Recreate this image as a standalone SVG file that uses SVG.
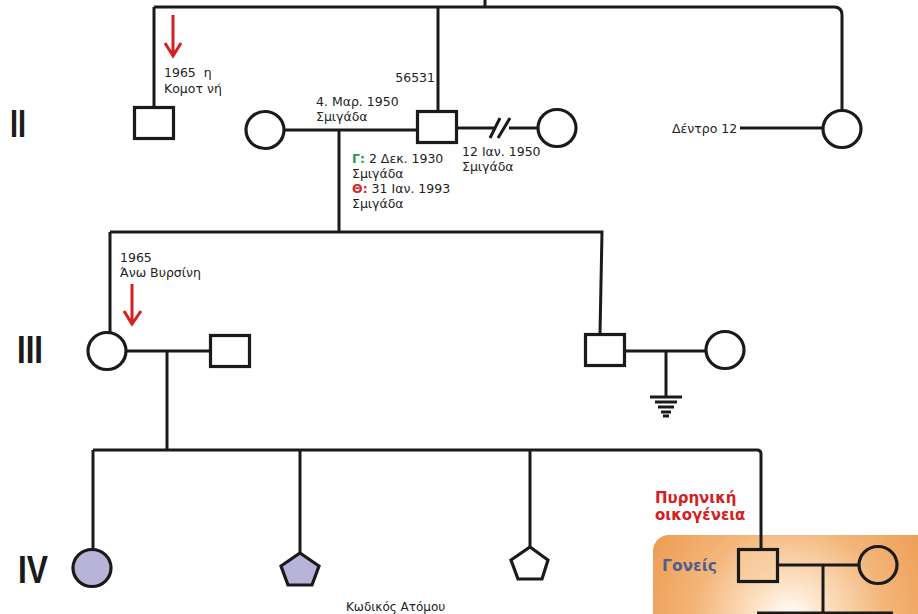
<svg xmlns="http://www.w3.org/2000/svg" width="918" height="614" viewBox="0 0 918 614">
<defs>
<radialGradient id="og" gradientUnits="userSpaceOnUse" cx="790" cy="618" r="170">
<stop offset="0" stop-color="#ffffff"/>
<stop offset="0.18" stop-color="#fde6cc"/>
<stop offset="0.55" stop-color="#f3b67a"/>
<stop offset="1" stop-color="#ec984a"/>
</radialGradient>
<style>
.ln{fill:none;stroke:#1a1a1a;stroke-width:3}
.sh{fill:#ffffff;stroke:#1a1a1a;stroke-width:3.2}
.aff{fill:#b8b3d9;stroke:#1a1a1a;stroke-width:3.2}
.tx{font-family:"DejaVu Sans",Verdana,sans-serif;font-size:12.5px;fill:#222222}
.gen{font-family:"Liberation Sans",Arial,sans-serif;font-weight:bold;font-size:38px;fill:#1a1a1a}
.arr{fill:none;stroke:#d42020;stroke-width:3}
.grn{fill:#2a9a4a;font-weight:bold}
.red{fill:#d42a2a;font-weight:bold}
.nf{font-family:"DejaVu Sans",Verdana,sans-serif;font-weight:bold;font-size:15px}
</style>
</defs>
<rect width="918" height="614" fill="#ffffff"/>
<g id="nuclear-box">
<rect x="653" y="535" width="290" height="120" rx="16" fill="url(#og)"/>
</g>
<g id="connectors">
<path class="ln" d="M485,0 V7"/>
<path class="ln" d="M154,7 H834 Q842,7 842,15 V110"/>
<path class="ln" d="M154,7 V107"/>
<path class="ln" d="M438,7 V111"/>
<path class="ln" d="M285,130 H416"/>
<path class="ln" d="M458,128 H496 M509,128 H537"/>
<path class="ln" d="M490,138 L500,118 M498,138 L510,118"/>
<path class="ln" d="M740,128 H823"/>
<path class="ln" d="M339,130 V232"/>
<path class="ln" d="M110,232 H602 L600,334"/>
<path class="ln" d="M110,232 V333"/>
<path class="ln" d="M127,351 H210"/>
<path class="ln" d="M167,351 V450"/>
<path class="ln" d="M626,351 H706"/>
<path class="ln" d="M666,351 V397"/>
<path class="ln" d="M93,450 H757 Q761,450 761,454 V549"/>
<path class="ln" d="M93,450 V550"/>
<path class="ln" d="M300,450 V553"/>
<path class="ln" d="M530,450 V547"/>
<path class="ln" d="M779,565 H859"/>
<path class="ln" d="M823,565 V613"/>
<path class="ln" d="M757,613 H893"/>
<g id="ground" stroke="#1a1a1a" stroke-width="3">
<path d="M650,397 H682 M655,402 H677 M658,407 H674 M661,412 H671 M663,416 H669"/>
</g>
</g>
<g id="arrows">
<path class="arr" d="M173,15 V56 M165,43 L173,56 L181,43"/>
<path class="arr" d="M132,284 V324 M124,311 L132,324 L141,311"/>
</g>
<g id="gen-labels">
<text class="gen" x="10" y="137" textLength="16" lengthAdjust="spacingAndGlyphs">II</text>
<text class="gen" x="17" y="363" textLength="26" lengthAdjust="spacingAndGlyphs">III</text>
<text class="gen" x="18" y="583" textLength="30" lengthAdjust="spacingAndGlyphs">IV</text>
</g>
<g id="n-II-1">
<rect class="sh" x="134.5" y="107.5" width="39" height="31"/>
<text class="tx" x="164" y="77" style="white-space:pre">1965  η</text>
<text class="tx" x="164" y="93">Κομοτ νή</text>
</g>
<g id="n-II-2">
<ellipse class="sh" cx="265" cy="130" rx="19" ry="18.5"/>
<text class="tx" x="316" y="106">4. Μαρ. 1950</text>
<text class="tx" x="316" y="121">Σμιγάδα</text>
</g>
<g id="n-II-3">
<rect class="sh" x="417.5" y="111.5" width="39" height="31"/>
<text class="tx" x="435" y="82" text-anchor="end">56531</text>
<text class="tx" x="352" y="163"><tspan class="grn">Γ:</tspan> 2 Δεκ. 1930</text>
<text class="tx" x="352" y="178">Σμιγάδα</text>
<text class="tx" x="352" y="193"><tspan class="red">Θ:</tspan> 31 Ιαν. 1993</text>
<text class="tx" x="352" y="208">Σμιγάδα</text>
</g>
<g id="n-II-4">
<ellipse class="sh" cx="557" cy="128" rx="19" ry="18.5"/>
<text class="tx" x="462" y="156">12 Ιαν. 1950</text>
<text class="tx" x="462" y="171">Σμιγάδα</text>
</g>
<g id="n-II-5">
<ellipse class="sh" cx="842" cy="129" rx="19" ry="18.5"/>
<text class="tx" x="672" y="133">Δέντρο 12</text>
</g>
<g id="n-III-1">
<ellipse class="sh" cx="107" cy="351" rx="19" ry="18.5"/>
<text class="tx" x="120" y="262">1965</text>
<text class="tx" x="120" y="277">Άνω Βυρσίνη</text>
</g>
<g id="n-III-2">
<rect class="sh" x="210.5" y="335.5" width="39" height="31"/>
</g>
<g id="n-III-3">
<rect class="sh" x="585.5" y="334.5" width="39" height="31"/>
</g>
<g id="n-III-4">
<ellipse class="sh" cx="725" cy="350" rx="19" ry="18.5"/>
</g>
<g id="n-IV-1">
<ellipse class="aff" cx="92" cy="568" rx="19" ry="18.5"/>
</g>
<g id="n-IV-2">
<polygon class="aff" points="300,553 319,566 312,585 288,585 281,566"/>
</g>
<g id="n-IV-3">
<polygon class="sh" points="530,547 548,560 542,579 518,579 511,560"/>
<text class="tx" x="346" y="611" style="font-size:12px">Κωδικός Ατόμου</text>
</g>
<g id="nuclear-family">
<text class="nf" x="655" y="503" fill="#d42020">Πυρηνική</text>
<text class="nf" x="655" y="520" fill="#d42020">οικογένεια</text>
<text class="nf" x="662" y="571" fill="#4f5f8f" style="font-size:15.5px">Γονείς</text>
</g>
<g id="n-V-1">
<rect x="738.5" y="549.5" width="39" height="32" fill="#f6cda0" fill-opacity="0.6" stroke="#1a1a1a" stroke-width="3.2"/>
</g>
<g id="n-V-2">
<ellipse cx="878" cy="565" rx="19" ry="18.5" fill="none" stroke="#1a1a1a" stroke-width="3.2"/>
</g>
</svg>
